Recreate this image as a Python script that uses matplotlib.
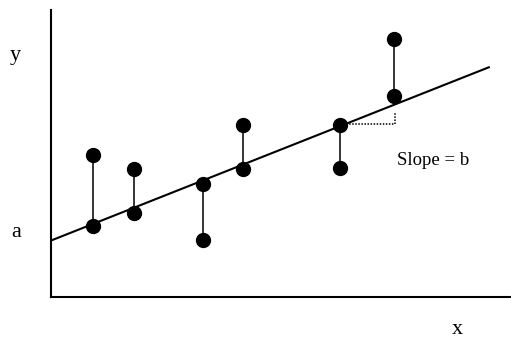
import matplotlib
matplotlib.use("Agg")
import matplotlib.pyplot as plt

# Regression line: intercept a, slope b
intercept_a = 1.96
slope_b = 0.635
line_x_end = 9.54

# Observations (x, observed y) and their fitted values on the line
obs_x = [0.92, 1.82, 3.31, 4.19, 6.29, 7.47]
obs_y = [4.95, 4.46, 1.99, 5.99, 4.49, 8.99]
fit_y = [2.47, 2.94, 3.94, 4.45, 5.99, 7.01]

# Slope triangle (run then rise)
tri_x = [6.29, 7.49, 7.49]
tri_y = [6.02, 6.02, 6.42]

W, H = 511, 338
fig = plt.figure(figsize=(W / 100, H / 100), dpi=100)
ax = fig.add_axes([50.5 / W, (H - 297) / H, (W - 50.5) / W, (297 - 10) / H])
ax.set_xlim(0, 10)
ax.set_ylim(0, 10)

for s in ("top", "right"):
    ax.spines[s].set_visible(False)
for s in ("left", "bottom"):
    ax.spines[s].set_linewidth(1.5)
    ax.spines[s].set_color("black")
ax.set_xticks([])
ax.set_yticks([])

# fitted line
ax.plot([0, line_x_end], [intercept_a, intercept_a + slope_b * line_x_end],
        color="black", lw=1.5, solid_capstyle="butt", zorder=2)

# residual segments
for x, yo, yf in zip(obs_x, obs_y, fit_y):
    ax.plot([x, x], [yo, yf], color="black", lw=1.1, zorder=2)

ax.plot(obs_x, obs_y, "o", color="black", ms=10, zorder=3)
ax.plot(obs_x, fit_y, "o", color="black", ms=10, zorder=3)

# slope triangle
ax.plot(tri_x, tri_y, color="black", lw=1.1, ls=(0, (1, 1)), zorder=1)

serif = ["Liberation Serif", "DejaVu Serif"]
fig.text(10 / W, 1 - 60 / H, "y", family=serif, fontsize=16, ha="left", va="baseline")
fig.text(11.5 / W, 1 - 237 / H, "a", family=serif, fontsize=16, ha="left", va="baseline")
fig.text(452 / W, 1 - 334 / H, "x", family=serif, fontsize=16, ha="left", va="baseline")
fig.text(397 / W, 1 - 165 / H, "Slope = b", family=serif, fontsize=13.5,
         ha="left", va="baseline")

fig.savefig("out.png", dpi=100)
